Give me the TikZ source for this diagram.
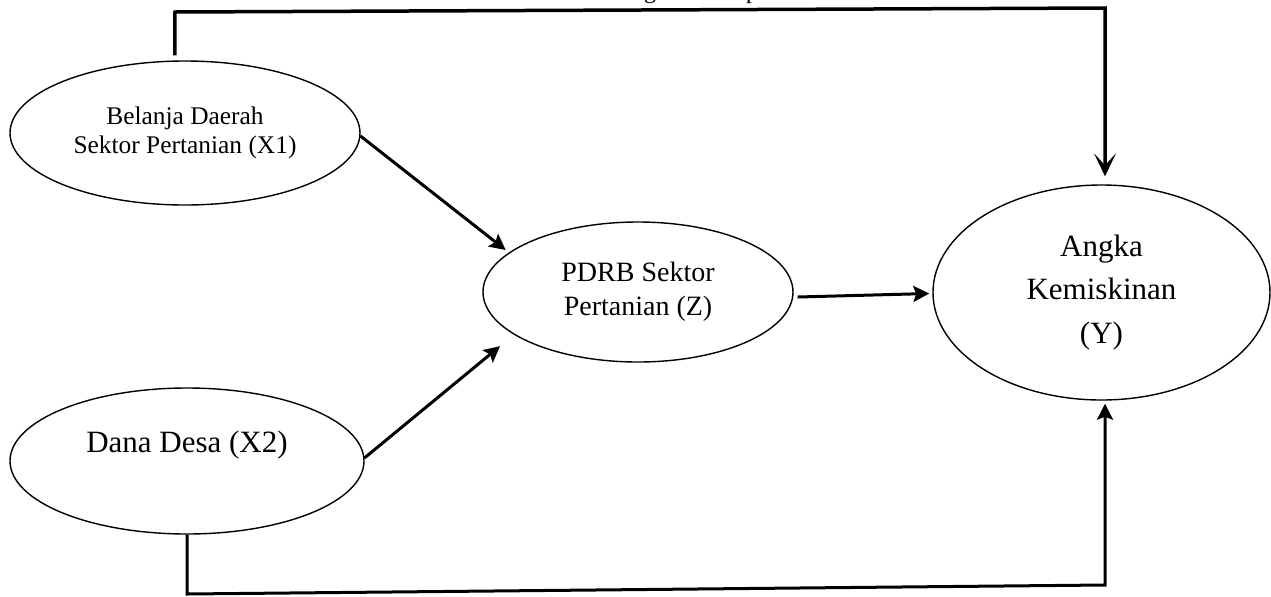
\documentclass[tikz,border=0pt]{standalone}
\usepackage{fontspec}
\setmainfont{Liberation Serif}
\usetikzlibrary{arrows.meta,calc,shapes.geometric}
\begin{document}
\begin{tikzpicture}[x=0.5pt,y=-0.5pt,
 ell/.style={draw, ellipse, line width=0.7pt, inner sep=0pt, align=center},
 arr/.style={line width=1.5pt, -{Stealth[length=8pt,width=8pt,inset=1.5pt]}},
 toparr/.style={line width=1.75pt, -{Stealth[length=11.5pt,width=11pt,inset=6pt]}},
 ]
\useasboundingbox (0,0) rectangle (1271,596);
\begin{scope}
\clip (0,0) rectangle (1271,596);
\node[anchor=base west, inner sep=0pt, font=\fontsize{12}{14}\selectfont] (title) at (585,-1.5) {Kerangka Konseptual};
\end{scope}

\node[ell, minimum width=175pt, minimum height=72pt, font=\fontsize{12.7}{14.2}\selectfont] (X1) at (185,133) {Belanja Daerah\\Sektor Pertanian (X1)};
\node[ell, minimum width=177pt, minimum height=73pt] (X2) at (187,461) {};
\node[font=\fontsize{15.5}{18}\selectfont, inner sep=0pt] (X2t) at (187,445) {Dana Desa (X2)};
\node[ell, minimum width=155pt, minimum height=70pt, font=\fontsize{14}{17}\selectfont] (Z) at (638,292) {PDRB Sektor\\Pertanian (Z)};
\node[ell, minimum width=168.5pt, minimum height=107.5pt, font=\fontsize{15.5}{21.75}\selectfont] (Y) at (1101.5,292.5) {Angka\\Kemiskinan\\(Y)};

\coordinate (tl) at (175,12);
\coordinate (tr) at (1105,8);
\draw[toparr, shorten <=2.5pt, shorten >=4pt] (X1.98) -- (tl) -- (tr) -- (tr |- Y.north);

\coordinate (bl) at (187,594);
\coordinate (br) at (1105,585);
\draw[arr, shorten >=1.5pt] (X2.south) -- (bl) -- (br) -- (br |- Y.south);

\draw[arr, shorten >=2pt] (X1.-1) -- (Z.163);
\draw[arr, shorten >=9pt] (X2.1) -- (Z.199);
\draw[arr] ($(Z.east)+(4,5)$) -- ($(Y.west)+(-3,1)$);
\end{tikzpicture}
\end{document}
